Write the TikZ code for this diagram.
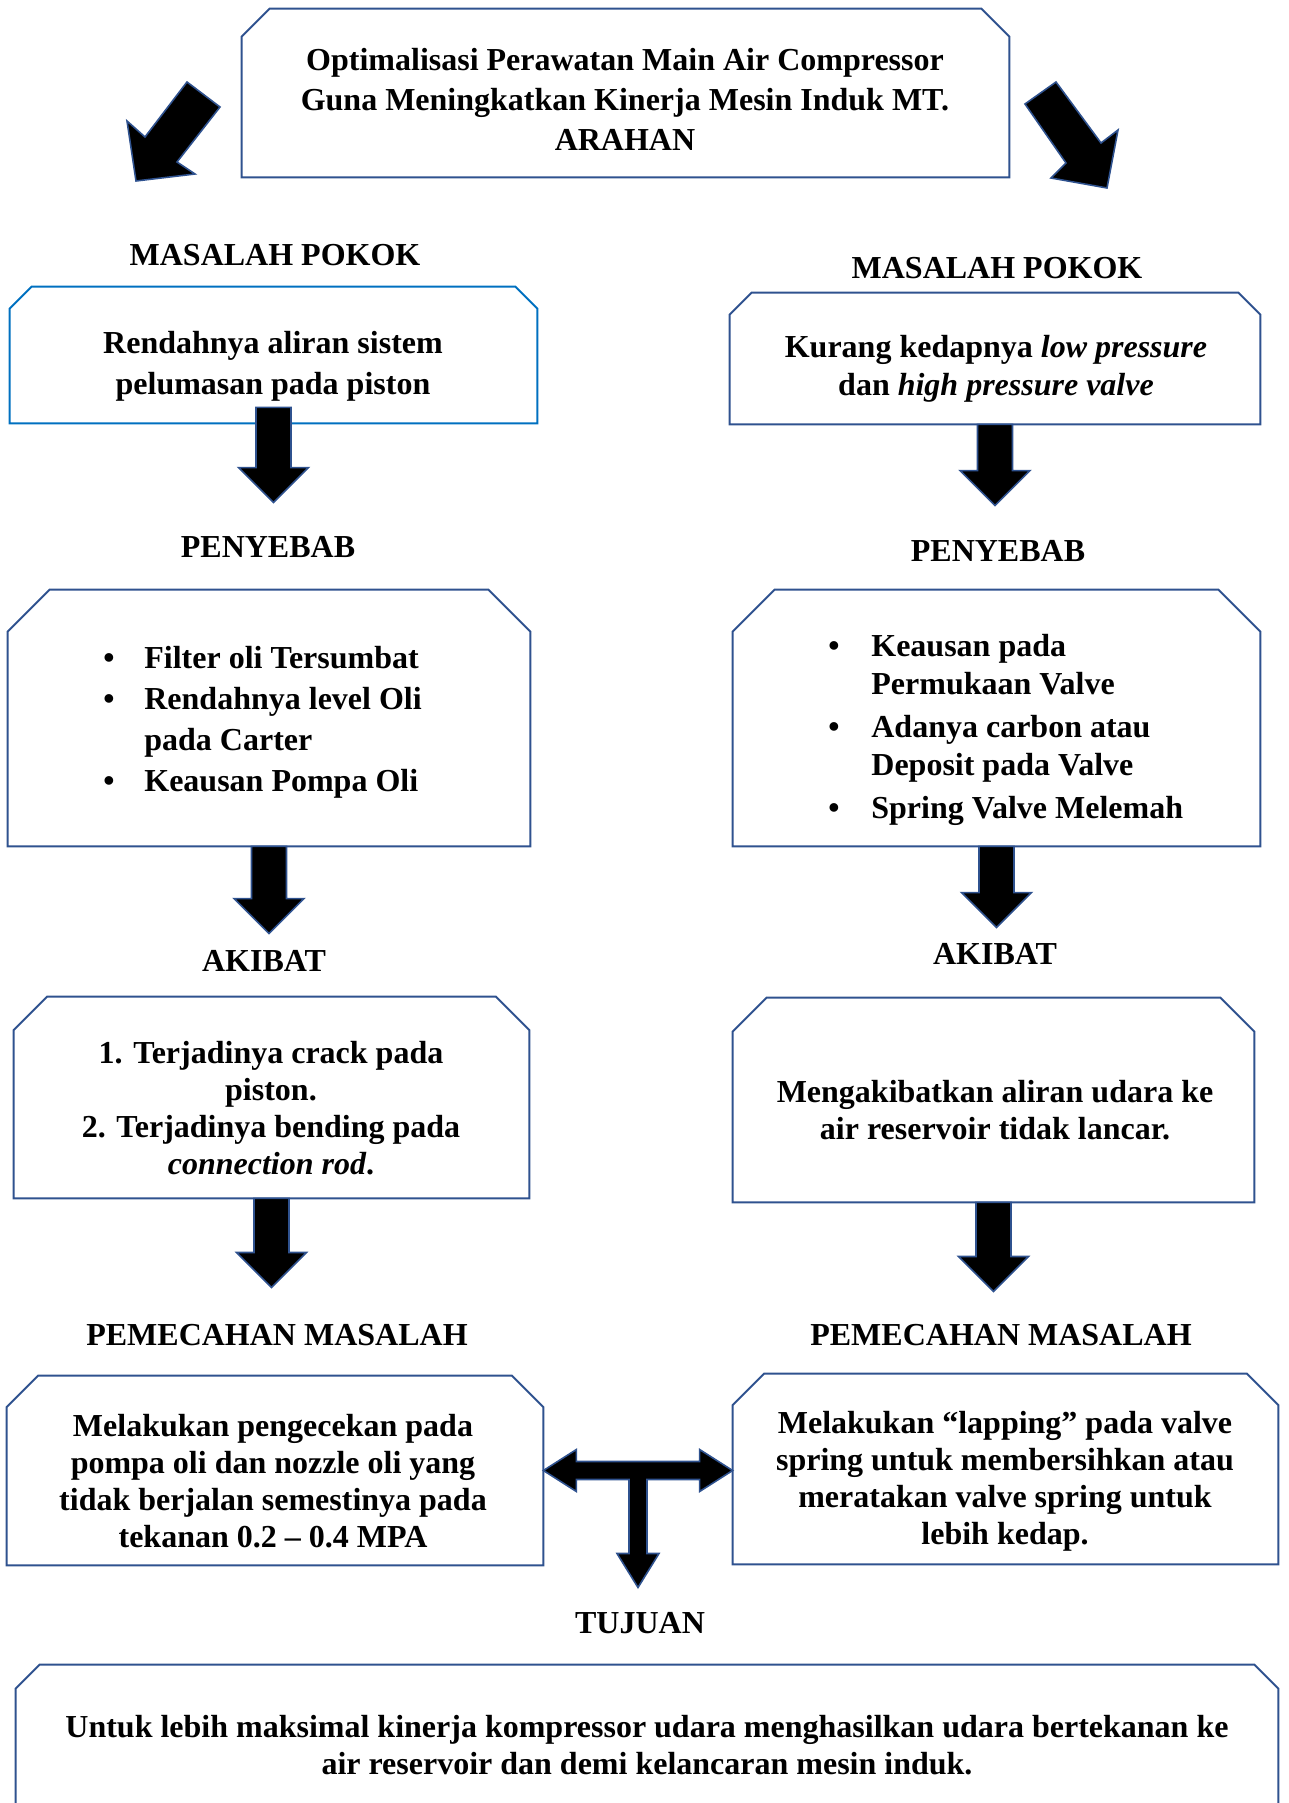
\documentclass[tikz,border=0pt]{standalone}
\usepackage{fontspec}
\setmainfont{Liberation Serif}
\usetikzlibrary{calc, fit, positioning}
\definecolor{outl}{HTML}{2F528F}
\definecolor{outlb}{HTML}{0070C0}
\newcommand\snip[3][outl]{\draw[#1, line width=1pt] (#2.south west) -- ([yshift=-#3]#2.north west) -- ([xshift=#3]#2.north west) -- ([xshift=-#3]#2.north east) -- ([yshift=-#3]#2.north east) -- (#2.south east) -- cycle;}
\newcommand\fatdown[4][0pt]{\draw[fat] let \p1=(#2.south), \p2=(#2.south |- #3.north) in (\x1-8.75pt,\y1+#1) -- (\x1-8.75pt,\y2+#4+17.5pt) -- (\x1-17.5pt,\y2+#4+17.5pt) -- (\x1,\y2+#4) -- (\x1+17.5pt,\y2+#4+17.5pt) -- (\x1+8.75pt,\y2+#4+17.5pt) -- (\x1+8.75pt,\y1+#1) -- cycle;}
\begin{document}
\begin{tikzpicture}[
    x=0.5pt, y=-0.5pt,
    box/.style={inner sep=0pt},
    head/.style={inner sep=0pt, font=\fontsize{16}{18.5}\selectfont\bfseries},
    txt/.style={align=center, inner sep=0pt, font=\fontsize{16}{18.5}\selectfont\bfseries},
    fat/.style={fill=black, draw=outl, line width=0.8pt}
]
\useasboundingbox (0,0) rectangle (1289,1803);
\clip (0,0) rectangle (1289,1803);

\node[box, fit={(242,9) (1009,177)}] (t) {};
\node[box, fit={(10,287) (537,423)}] (aL) {};
\node[box, fit={(730,293) (1260,424)}] (aR) {};
\node[box, fit={(8,590) (530,846)}] (bL) {};
\node[box, fit={(733,590) (1260,846)}] (bR) {};
\node[box, fit={(14,997) (529,1198)}] (cL) {};
\node[box, fit={(733,998) (1254,1202)}] (cR) {};
\node[box, fit={(7,1376) (543,1565)}] (dL) {};
\node[box, fit={(733,1374) (1278,1564)}] (dR) {};
\node[box, fit={(16,1665) (1278,1840)}] (e) {};
\snip{t}{14pt}
\snip[outlb]{aL}{11pt}
\snip{aR}{11pt}
\snip{bL}{21pt}
\snip{bR}{21pt}
\snip{cL}{16.75pt}
\snip{cR}{17pt}
\snip{dL}{15.75pt}
\snip{dR}{15.75pt}
\snip{e}{12pt}

\node[txt, font=\fontsize{16}{20}\selectfont\bfseries] (tt) at (625,99) {Optimalisasi Perawatan Main Air Compressor\\Guna Meningkatkan Kinerja Mesin Induk MT.\\ARAHAN};

\node[head] (mpL) at (275,255) {MASALAH POKOK};
\node[head] (mpR) at (997,268) {MASALAH POKOK};
\node[txt, font=\fontsize{16}{20.5}\selectfont\bfseries] (aLt) at (273,366) {Rendahnya aliran sistem\\pelumasan pada piston};
\node[txt, font=\fontsize{16}{19}\selectfont\bfseries] (aRt) at (996,369) {Kurang kedapnya \textit{low pressure}\\dan \textit{high pressure valve}};

\node[head] (pyL) at (268,547) {PENYEBAB};
\node[head] (pyR) at (998,551) {PENYEBAB};
\node[txt, anchor=west, font=\fontsize{16}{20.5}\selectfont\bfseries] (bLt) at (103,722) {\begin{tabular}{@{}p{20.5pt}@{}l@{}}
•&Filter oli Tersumbat\\
•&Rendahnya level Oli\\
&pada Carter\\
•&Keausan Pompa Oli
\end{tabular}};
\node[txt, anchor=west, font=\fontsize{16}{18.75}\selectfont\bfseries] (bRt) at (828,730) {\begin{tabular}{@{}p{21.5pt}@{}l@{}}
•&Keausan pada\\
&Permukaan Valve\\[3pt]
•&Adanya carbon atau\\
&Deposit pada Valve\\[3pt]
•&Spring Valve Melemah
\end{tabular}};

\node[head] (akL) at (264,961) {AKIBAT};
\node[head] (akR) at (995,954) {AKIBAT};
\node[txt] (cLt) at (271,1108) {1. Terjadinya crack pada\\piston.\\2. Terjadinya bending pada\\\textit{connection rod}.};
\node[txt] (cRt) at (995,1110) {Mengakibatkan aliran udara ke\\air reservoir tidak lancar.};

\node[head] (pmL) at (277,1335) {PEMECAHAN MASALAH};
\node[head] (pmR) at (1001,1335) {PEMECAHAN MASALAH};
\node[txt] (dLt) at (273,1481) {Melakukan pengecekan pada\\pompa oli dan nozzle oli yang\\tidak berjalan semestinya pada\\tekanan 0.2 – 0.4 MPA};
\node[txt] (dRt) at (1005,1481) {Melakukan “lapping” pada valve\\spring untuk membersihkan atau\\meratakan valve spring untuk\\lebih kedap.};

\node[head] (tuj) at (640,1623) {TUJUAN};
\node[txt] (et) at (647,1745) {Untuk lebih maksimal kinerja kompressor udara menghasilkan udara bertekanan ke\\air reservoir dan demi kelancaran mesin induk.};

\draw[fat] (187,82) -- (145,137) -- (127,121) -- (136,181) -- (195,174) -- (177,162) -- (220,107) -- cycle;
\draw[fat] (1056,82) -- (1101,143) -- (1118,130) -- (1107,188) -- (1051,178) -- (1066,163) -- (1025,104) -- cycle;

\fatdown[8pt]{aL}{pyL}{16.7pt}
\fatdown{aR}{pyR}{17.2pt}
\fatdown{bL}{akL}{8.2pt}
\fatdown{bR}{akR}{7.7pt}
\fatdown{cL}{pmL}{18.2pt}
\fatdown{cR}{pmR}{16.2pt}

\coordinate (tm) at ($(dL.east)!.5!(dR.west)$);
\draw[fat] let \p1=(dL.east), \p2=(dR.west), \p3=(tm |- tuj.north) in
  (\x1,\y1) -- (\x1+16.5pt,\y1+10.5pt) -- (\x1+16.5pt,\y1+4.5pt) -- (\x2-16.5pt,\y1+4.5pt) -- (\x2-16.5pt,\y1+10.5pt) -- (\x2,\y1)
  -- (\x2-16.5pt,\y1-10.5pt) -- (\x2-16.5pt,\y1-4.5pt) -- (\x3+4.5pt,\y1-4.5pt) -- (\x3+4.5pt,\y3+12.2pt+17pt) -- (\x3+10.5pt,\y3+12.2pt+17pt)
  -- (\x3,\y3+12.2pt) -- (\x3-10.5pt,\y3+12.2pt+17pt) -- (\x3-4.5pt,\y3+12.2pt+17pt) -- (\x3-4.5pt,\y1-4.5pt) -- (\x1+16.5pt,\y1-4.5pt) -- (\x1+16.5pt,\y1-10.5pt) -- cycle;
\end{tikzpicture}
\end{document}
